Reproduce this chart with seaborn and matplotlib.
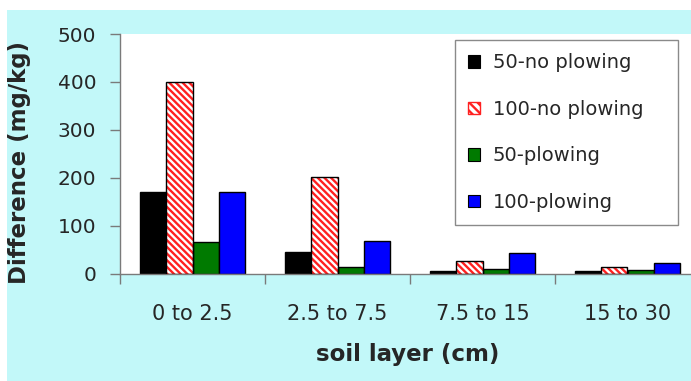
import matplotlib
matplotlib.use("Agg")
import matplotlib.pyplot as plt
import matplotlib.patches as mpatches
import pandas as pd
import seaborn as sns

# Soil layers (cm) and the four treatments
layers = ["0 to 2.5", "2.5 to 7.5", "7.5 to 15", "15 to 30"]
treatments = ["50-no plowing", "100-no plowing", "50-plowing", "100-plowing"]

# Difference (mg/kg) per layer for each treatment
no_plow_50 = [171, 44, 5, 5]
no_plow_100 = [400, 202, 27, 13]
plow_50 = [66, 14, 9, 8]
plow_100 = [170, 67, 43, 22]

yticks = [0, 100, 200, 300, 400, 500]

series = [no_plow_50, no_plow_100, plow_50, plow_100]
df = pd.DataFrame(
    [(layer, t, v) for t, vals in zip(treatments, series) for layer, v in zip(layers, vals)],
    columns=["layer", "treatment", "value"],
)

sns.set_style("white")
plt.rcParams["font.family"] = ["DejaVu Sans"]
plt.rcParams["hatch.linewidth"] = 1.7

CYAN = "#c2f8f9"
TEXT = "#262626"
AXIS = "#7a7a7a"
HATCH_RED = "#ff2020"

fig = plt.figure(figsize=(6.91, 3.81), dpi=100, facecolor="white")
# light cyan chart area behind the white plot area
fig.patches.append(mpatches.Rectangle((7 / 691, 0), 1, (381 - 10) / 381,
                                      transform=fig.transFigure, facecolor=CYAN,
                                      edgecolor="none", zorder=-5))

ax = fig.add_axes([120 / 691, (381 - 273.5) / 381, 1 - 120 / 691, (273.5 - 34) / 381])
ax.set_zorder(1)
ax.set_facecolor("white")

palette = {"50-no plowing": "black", "100-no plowing": "white",
           "50-plowing": "#007a00", "100-plowing": "#0000ff"}

sns.barplot(data=df, x="layer", y="value", hue="treatment", order=layers,
            hue_order=treatments, palette=palette, width=0.73, gap=0,
            edgecolor="black", linewidth=1, saturation=1, legend=False, ax=ax)

hatch = "\\" * 5
# red diagonal stripes on the "100-no plowing" bars, with a black outline drawn on top
for bar in ax.containers[1]:
    bar.set_facecolor("white")
    bar.set_edgecolor(HATCH_RED)
    bar.set_hatch(hatch)
    bar.set_linewidth(0)
    ax.add_patch(mpatches.Rectangle(bar.get_xy(), bar.get_width(), bar.get_height(),
                                    fill=False, edgecolor="black", linewidth=1, zorder=3))

ax.set_ylim(0, 500)
ax.set_xlim(-0.5, -0.5 + 571 / 145)
ax.set_yticks(yticks)
ax.set_yticklabels([str(v) for v in yticks], fontsize=14.5, color=TEXT)
ax.tick_params(axis="y", direction="out", length=7, width=1, color=AXIS, pad=10, left=True)

ax.set_xticks(range(len(layers)))
ax.set_xticklabels(layers, fontsize=15, color=TEXT)
ax.tick_params(axis="x", which="major", length=0, pad=22)
ax.set_xticks([i - 0.5 for i in range(len(layers))], minor=True)
ax.tick_params(axis="x", which="minor", direction="out", length=7, width=1, color=AXIS, bottom=True)

for side in ["top", "right"]:
    ax.spines[side].set_visible(False)
for side in ["left", "bottom"]:
    ax.spines[side].set_color(AXIS)
    ax.spines[side].set_linewidth(1)

ax.set_ylabel("Difference (mg/kg)", fontsize=16.5, fontweight="bold", color=TEXT)
ax.yaxis.set_label_coords((20 - 120) / 571, (273.5 - 162) / 239.5)
ax.yaxis.label.set_va("center")
ax.set_xlabel("soil layer (cm)", fontsize=16.5, fontweight="bold", color=TEXT)
ax.xaxis.set_label_coords((408 - 120) / 571, (273.5 - 355) / 239.5)
ax.xaxis.label.set_va("center")

handles = []
for t in treatments:
    if t == "100-no plowing":
        handles.append(mpatches.Patch(facecolor="white", edgecolor=HATCH_RED, hatch="\\" * 4, label=t))
    else:
        handles.append(mpatches.Patch(facecolor=palette[t], edgecolor="black", linewidth=0.8, label=t))

leg = ax.legend(handles=handles, loc="upper left",
                bbox_to_anchor=((455 - 120) / 571, 0, (678 - 455) / 571, (273.5 - 40) / 239.5),
                mode="expand", fontsize=14, frameon=True, fancybox=False, framealpha=1,
                edgecolor="#8a8a8a", handlelength=0.6, handleheight=0.6,
                handletextpad=0.67, labelspacing=1.42, borderpad=0.68, borderaxespad=0)
leg.get_frame().set_linewidth(1)
for txt in leg.get_texts():
    txt.set_color(TEXT)

fig.savefig("out.png", dpi=100)
